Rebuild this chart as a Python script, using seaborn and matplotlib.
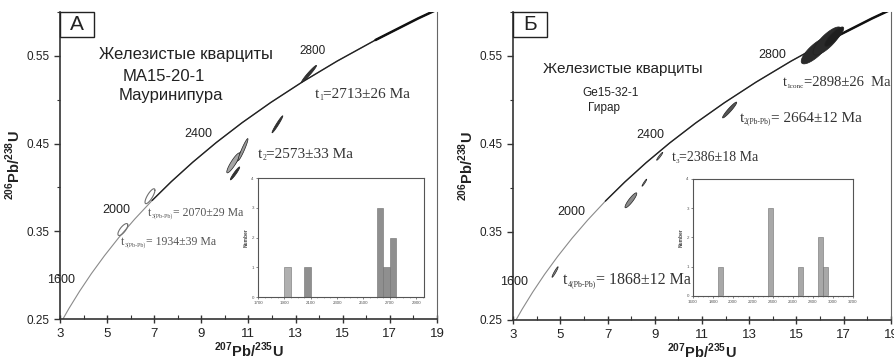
import numpy as np
import matplotlib
matplotlib.use("Agg")
import matplotlib.pyplot as plt
import seaborn as sns
from matplotlib.patches import Rectangle
from matplotlib.ticker import MultipleLocator

# concordia, tabulated every 100 Ma (1400 ... 3100 Ma)
conc_age = [1400, 1500, 1600, 1700, 1800, 1900, 2000, 2100, 2200,
            2300, 2400, 2500, 2600, 2700, 2800, 2900, 3000, 3100]
conc_x = [2.970, 3.381, 3.834, 4.335, 4.887, 5.496, 6.169, 6.910, 7.729,
          8.633, 9.630, 10.730, 11.944, 13.283, 14.762, 16.393, 18.193, 20.180]
conc_y = [0.2426, 0.2620, 0.2817, 0.3018, 0.3221, 0.3428, 0.3638, 0.3851, 0.4067,
          0.4287, 0.4511, 0.4738, 0.4968, 0.5202, 0.5440, 0.5681, 0.5926, 0.6175]

# error ellipses, panel A (MA15-20-1)
ell_a_x = [13.57, 12.23, 10.43, 10.56, 10.36, 10.77, 6.82, 5.67]
ell_a_y = [0.5295, 0.472, 0.416, 0.434, 0.428, 0.4432, 0.390, 0.352]
ell_a_sx = [0.32, 0.23, 0.20, 0.20, 0.28, 0.21, 0.21, 0.21]
ell_a_sy = [0.0097, 0.0097, 0.0074, 0.0085, 0.0114, 0.0125, 0.0085, 0.0068]
ell_a_rho = [0.97, 0.97, 0.95, 0.95, 0.90, 0.95, 0.80, 0.75]
ell_a_fill = ["#333333", "#333333", "#333333", "#555555", "#a5a5a5", "#9a9a9a", "none", "none"]

# error ellipses, panel B (Ge15-32-1)
ell_b_x = [15.8, 16.3, 16.6, 12.17, 9.21, 8.56, 7.99, 4.78]
ell_b_y = [0.556, 0.567, 0.572, 0.4886, 0.436, 0.406, 0.386, 0.3045]
ell_b_sx = [0.60, 0.60, 0.40, 0.30, 0.13, 0.10, 0.25, 0.13]
ell_b_sy = [0.015, 0.016, 0.011, 0.009, 0.0045, 0.004, 0.0085, 0.006]
ell_b_rho = [0.80, 0.80, 0.85, 0.95, 0.95, 0.95, 0.90, 0.95]
ell_b_fill = ["#2a2a2a", "#2a2a2a", "#1e1e1e", "#555555", "#8a8a8a", "#8a8a8a", "#8a8a8a", "#8a8a8a"]

# age histograms (bin centres, 50 Ma bins)
hist_a_age = [1925, 2075, 2625, 2675, 2725]
hist_a_n = [1, 1, 3, 1, 2]
hist_b_age = [1875, 2375, 2675, 2875, 2925]
hist_b_n = [1, 3, 1, 2, 1]

sns.set_style("white")
plt.rcParams["font.family"] = ["Liberation Sans", "DejaVu Sans"]
plt.rcParams["mathtext.fontset"] = "custom"
plt.rcParams["mathtext.rm"] = "Liberation Sans"
plt.rcParams["mathtext.bf"] = "Liberation Sans:bold"

serif = ["Liberation Serif", "DejaVu Serif"]

fig = plt.figure(figsize=(8.95, 3.63), dpi=100)
ax_a = fig.add_axes([0.0670, 0.1212, 0.4212, 0.8457])
ax_b = fig.add_axes([0.5732, 0.1185, 0.4223, 0.8485])


def draw_ellipse(ax, cx, cy, sx, sy, rho, fc):
    t = np.linspace(0, 2 * np.pi, 120)
    ex = cx + sx * np.cos(t)
    ey = cy + sy * (rho * np.cos(t) + np.sqrt(1 - rho ** 2) * np.sin(t))
    if fc == "none":
        ax.plot(ex, ey, color="#707070", lw=0.8, zorder=4)
    else:
        ax.fill(ex, ey, facecolor=fc, edgecolor="#222222", lw=0.5, zorder=4)


def age_label(ax, x, y, sub, rest, fs, color="#333333"):
    # "t" + small subscript + "=... Ma", chained so the subscript stays small
    t = ax.text(x, y, "t", fontsize=fs, family=serif, color=color, ha="left", va="center")
    s = ax.annotate(sub, xy=(1.02, 0.24), xycoords=t, fontsize=fs * 0.5, family=serif,
                    color=color, ha="left", va="center")
    ax.annotate(rest, xy=(1, 0), xycoords=(s, t), fontsize=fs, family=serif,
                color=color, ha="left", va="bottom")


def style_main(ax, letter):
    sns.lineplot(x=conc_x, y=conc_y, sort=False, estimator=None, color="#8a8a8a", lw=0.8, ax=ax)
    sns.lineplot(x=conc_x[7:], y=conc_y[7:], sort=False, estimator=None, color="#222222", lw=1.0, ax=ax)
    sns.lineplot(x=conc_x[15:], y=conc_y[15:], sort=False, estimator=None, color="#111111", lw=1.8, ax=ax)
    ax.set_xlim(3, 19)
    ax.set_ylim(0.25, 0.6)
    ax.set_xticks(range(3, 20, 2))
    ax.set_yticks([0.25, 0.35, 0.45, 0.55])
    ax.set_yticklabels(["0.25", "0.35", "0.45", "0.55"])
    ax.xaxis.set_minor_locator(MultipleLocator(1))
    ax.yaxis.set_minor_locator(MultipleLocator(0.05))
    ax.tick_params(axis="x", which="major", direction="inout", length=6, width=1, labelsize=9.5,
                   colors="#333333", labelcolor="#222222", bottom=True)
    ax.tick_params(axis="x", which="minor", direction="in", length=3, width=0.8, colors="#333333", bottom=True)
    ax.tick_params(axis="y", which="major", direction="out", length=4, width=1, labelsize=8.5,
                   colors="#333333", labelcolor="#222222", left=True)
    ax.tick_params(axis="y", which="minor", direction="out", length=2, width=0.8, colors="#333333", left=True)
    for s in ["left", "bottom"]:
        ax.spines[s].set_color("#333333")
        ax.spines[s].set_linewidth(1.2)
    ax.spines["right"].set_color("#666666")
    ax.spines["right"].set_linewidth(0.8)
    ax.spines["top"].set_visible(False)
    ax.set_xlabel(r"$^{\mathbf{207}}\mathbf{Pb/}^{\mathbf{235}}\mathbf{U}$", fontsize=10.5, color="#222222")
    ax.set_ylabel(r"$^{\mathbf{206}}\mathbf{Pb/}^{\mathbf{238}}\mathbf{U}$", fontsize=10.5, color="#222222")
    ax.xaxis.set_label_coords(0.5, -0.07)
    ax.yaxis.set_label_coords(-0.097, 0.5)
    ax.add_patch(Rectangle((0, 0.919), 0.09, 0.081, transform=ax.transAxes, facecolor="white",
                           edgecolor="#222222", lw=1.0, clip_on=False, zorder=6))
    ax.text(0.045, 0.958, letter, transform=ax.transAxes, ha="center", va="center",
            fontsize=15, color="#222222", zorder=7)


def style_inset(ax, xlim, xticks, colors):
    ax.set_xlim(*xlim)
    ax.set_ylim(0, 4)
    ax.set_xticks(xticks)
    ax.set_yticks([0, 1, 2, 3, 4])
    ax.xaxis.set_minor_locator(MultipleLocator(50))
    ax.tick_params(which="major", direction="out", length=1.5, width=0.5, labelsize=3.2,
                   colors="#555555", labelcolor="#555555", pad=1.5, bottom=True, left=True)
    ax.tick_params(which="minor", direction="out", length=1, width=0.4, colors="#777777", bottom=True)
    for s in ax.spines.values():
        s.set_color("#555555")
        s.set_linewidth(0.8)
    ax.set_xlabel("")
    ax.set_ylabel("Number", fontsize=3.5, fontweight="bold", color="#444444", labelpad=2)
    bars = [p for p in ax.patches if p.get_height() > 0]
    for p, c in zip(bars, colors):
        p.set_facecolor(c)
        p.set_edgecolor("#6f6f6f")
        p.set_linewidth(0.4)
        p.set_alpha(1)


# ---- panel A ----
style_main(ax_a, "А")
for i in range(len(ell_a_x)):
    draw_ellipse(ax_a, ell_a_x[i], ell_a_y[i], ell_a_sx[i], ell_a_sy[i], ell_a_rho[i], ell_a_fill[i])

ax_a.text(8.35, 0.5511, "Железистые кварциты", ha="center", va="center", fontsize=12, color="#222222")
ax_a.text(7.41, 0.526, "МА15-20-1", ha="center", va="center", fontsize=12, color="#222222")
ax_a.text(7.71, 0.5045, "Мауринипура", ha="center", va="center", fontsize=12, color="#222222")
ax_a.text(13.74, 0.5557, "2800", ha="center", va="center", fontsize=8.5, color="#222222")
ax_a.text(8.86, 0.4614, "2400", ha="center", va="center", fontsize=9, color="#222222")
ax_a.text(5.38, 0.3739, "2000", ha="center", va="center", fontsize=9, color="#222222")
ax_a.text(3.04, 0.2943, "1600", ha="center", va="center", fontsize=9, color="#222222", clip_on=False)
age_label(ax_a, 13.82, 0.5057, "1", "=2713±26 Ma", 11)
age_label(ax_a, 11.40, 0.4375, "2", "=2573±33 Ma", 11)
age_label(ax_a, 6.74, 0.3705, "3(Pb-Pb)", "= 2070±29 Ma", 8.5, "#555555")
age_label(ax_a, 5.59, 0.3375, "3(Pb-Pb)", "= 1934±39 Ma", 8.5, "#555555")

ins_a = fig.add_axes([0.2883, 0.1818, 0.1855, 0.3278])
sns.histplot(x=hist_a_age, weights=hist_a_n, binwidth=50, binrange=(1700, 2950),
             color="#8f8f8f", alpha=1, ax=ins_a)
style_inset(ins_a, (1700, 2960), [1700, 1900, 2100, 2300, 2500, 2700, 2900],
            ["#b0b0b0", "#8f8f8f", "#8f8f8f", "#8f8f8f", "#8f8f8f"])

# ---- panel B ----
style_main(ax_b, "Б")
for i in range(len(ell_b_x)):
    draw_ellipse(ax_b, ell_b_x[i], ell_b_y[i], ell_b_sx[i], ell_b_sy[i], ell_b_rho[i], ell_b_fill[i])

ax_b.text(7.65, 0.5352, "Железистые кварциты", ha="center", va="center", fontsize=11, color="#222222")
ax_b.text(7.14, 0.508, "Ge15-32-1", ha="center", va="center", fontsize=8.5, color="#222222")
ax_b.text(6.85, 0.4909, "Гирар", ha="center", va="center", fontsize=8.5, color="#222222")
ax_b.text(13.99, 0.5511, "2800", ha="center", va="center", fontsize=9, color="#222222")
ax_b.text(8.83, 0.4602, "2400", ha="center", va="center", fontsize=9, color="#222222")
ax_b.text(5.45, 0.3727, "2000", ha="center", va="center", fontsize=9, color="#222222")
ax_b.text(3.04, 0.2932, "1600", ha="center", va="center", fontsize=9, color="#222222", clip_on=False)
age_label(ax_b, 14.41, 0.5193, "1conc", "=2898±26  Ma", 10.5)
age_label(ax_b, 12.59, 0.4795, "2(Pb-Pb)", "= 2664±12 Ma", 11)
age_label(ax_b, 9.72, 0.4341, "3", "=2386±18 Ma", 10)
age_label(ax_b, 5.11, 0.2955, "4(Pb-Pb)", "= 1868±12 Ma", 11.5)

ins_b = fig.add_axes([0.7743, 0.1846, 0.1788, 0.3223])
sns.histplot(x=hist_b_age, weights=hist_b_n, binwidth=50, binrange=(1600, 3200),
             color="#a8a8a8", alpha=1, ax=ins_b)
style_inset(ins_b, (1600, 3200), list(range(1600, 3201, 200)), ["#a8a8a8"] * 5)

fig.savefig("out.png", dpi=100)
